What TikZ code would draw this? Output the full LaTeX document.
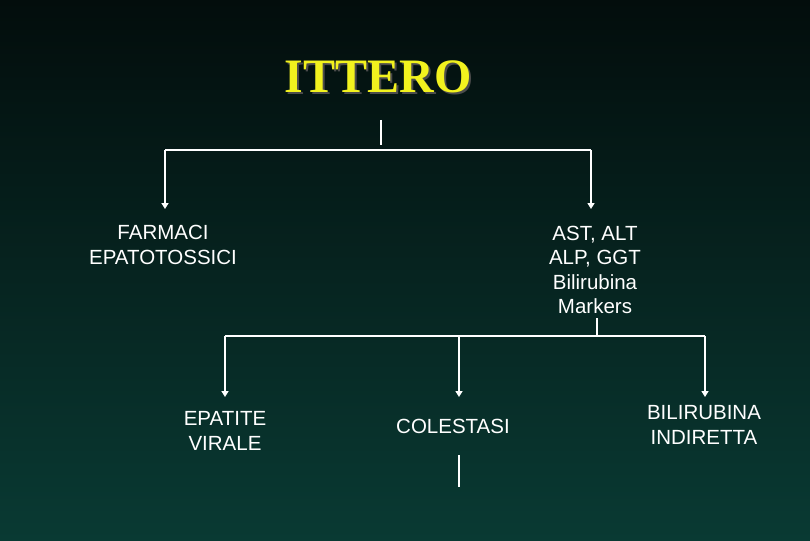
\documentclass[tikz,border=0pt]{standalone}
\usepackage{fontspec}
\setmainfont{Liberation Sans}
\newfontfamily\titlefont{Liberation Serif}
\usetikzlibrary{arrows.meta}
\definecolor{bgtop}{HTML}{030D0C}
\definecolor{bgbot}{HTML}{093A33}
\definecolor{ttl}{HTML}{F2F21E}
\begin{document}
\begin{tikzpicture}[x=1pt,y=-1pt,
  lbl/.style={text=white,font=\fontsize{20.5}{24.5}\selectfont,align=center,inner sep=0},
  ln/.style={draw=white,line width=1.6pt},
  arr/.style={ln,-{Triangle[width=7pt,length=6pt]}}]
\shade[top color=bgtop,bottom color=bgbot] (0,0) rectangle (810,540);
\useasboundingbox (0,0) rectangle (810,540);
\node[text=black!70,font=\titlefont\bfseries\fontsize{48}{54}\selectfont,inner sep=0] (ts) at (380,79) {ITTERO};
\node[text=ttl,font=\titlefont\bfseries\fontsize{48}{54}\selectfont,inner sep=0] (t) at (378,77) {ITTERO};
\coordinate (t1) at (381,120); \coordinate (t2) at (381,145);
\draw[ln] (t1) -- (t2);
\coordinate (hl) at (165,150); \coordinate (hr) at (591,150);
\draw[ln] (hl) -- (hr);
\node[lbl] (far) at (163,245) {FARMACI\\EPATOTOSSICI};
\node[lbl] (ast) at (595,270) {AST, ALT\\ALP, GGT\\Bilirubina\\Markers};
\coordinate (a1) at (165,209); \coordinate (a2) at (591,209);
\draw[arr] (hl) -- (a1);
\draw[arr] (hr) -- (a2);
\coordinate (m1) at (597,318); \coordinate (m2) at (597,336);
\draw[ln] (m1) -- (m2);
\coordinate (bl) at (225,336); \coordinate (bm) at (459,336); \coordinate (br) at (705,336);
\draw[ln] (bl) -- (br);
\coordinate (b1) at (225,397); \coordinate (b2) at (459,397); \coordinate (b3) at (705,397);
\draw[arr] (bl) -- (b1);
\draw[arr] (bm) -- (b2);
\draw[arr] (br) -- (b3);
\node[lbl] (ep) at (225,431) {EPATITE\\VIRALE};
\node[lbl] (co) at (453,426) {COLESTASI};
\node[lbl] (bi) at (704,425) {BILIRUBINA\\INDIRETTA};
\coordinate (c1) at (459,455); \coordinate (c2) at (459,487);
\draw[ln] (c1) -- (c2);
\end{tikzpicture}
\end{document}
